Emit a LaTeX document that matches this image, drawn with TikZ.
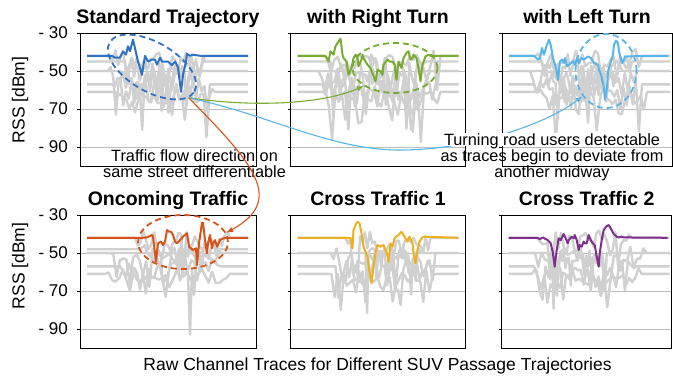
\documentclass[tikz,border=0pt]{standalone}
\usepackage{fontspec}
\setmainfont{Liberation Sans}
\usetikzlibrary{shapes.geometric,arrows.meta}

\definecolor{stdblue}{RGB}{47,114,196}
\definecolor{rightgreen}{RGB}{119,172,48}
\definecolor{leftblue}{RGB}{86,182,236}
\definecolor{oncomingorange}{RGB}{217,83,25}
\definecolor{crossgold}{RGB}{237,177,32}
\definecolor{crosspurple}{RGB}{126,47,142}
\definecolor{tracegray}{RGB}{208,208,208}
\definecolor{gridgray}{RGB}{188,188,188}
\setlength{\fboxsep}{0.5pt}

\newcommand{\graytrace}[4]{%
  \draw[clutter] (7,#1) -- (#2,#1)
    \foreach \k in {1,...,34} { -- ({#2+\k*(#3-#2)/35},{#1+4*rand-#4*rnd*rnd*rnd}) }
    -- (#3,#1) -- (168,#1);
}
\newcommand{\rssaxes}[3]{%
  \draw[gridline] (0,-50) -- (#1,-50) (0,-70) -- (#1,-70) (0,-90) -- (#1,-90);
  \draw[frame] (0,-30) rectangle (#1,-100);
  \foreach \v in {30,50,70,90} \draw[frame] (-3,-\v) -- (0,-\v);
  \node[paneltitle, yshift=10pt] (#3) at ({#1/2},-30) {#2};
}

\begin{document}
\begin{tikzpicture}[x=1pt, y=-1pt,
  trace/.style={line width=2pt, line join=round},
  clutter/.style={tracegray, line width=2.4pt, line join=round},
  gridline/.style={gridgray, line width=0.9pt},
  frame/.style={black, line width=0.9pt},
  ring/.style={ellipse, draw=#1, dash pattern=on 6pt off 4pt, line width=1.8pt, inner sep=0pt},
  flow/.style={#1, line width=1.1pt, -{Latex[length=7pt,width=5.5pt]}},
  paneltitle/.style={font=\bfseries\fontsize{19.5}{20}\selectfont, anchor=base},
  ticklabel/.style={font=\fontsize{17}{17}\selectfont, anchor=east, inner sep=0pt},
  axislabel/.style={font=\fontsize{17.5}{18}\selectfont, rotate=90},
  note/.style={font=\fontsize{16.3}{16}\selectfont, align=center, inner sep=0pt}]
\pgfmathsetseed{4}
\useasboundingbox (0,0) rectangle (673,381);

\begin{scope}[shift={(80,-24)}, y=1.9pt]
  \rssaxes{176}{Standard Trajectory}{stdtitle}
  \foreach \v in {30,50,70,90} \node[ticklabel] (stdtick\v) at (-12,-\v) {- \v};
  \graytrace{-42}{30}{125}{45}
  \graytrace{-50}{28}{120}{50}
  \graytrace{-57}{32}{130}{38}
  \graytrace{-61}{35}{135}{28}
  \graytrace{-50}{40}{110}{42}
  \graytrace{-45}{45}{125}{40}
  \draw[trace, stdblue] plot coordinates {(7,-42) (32,-42) (35,-43) (40,-43) (43,-39.6) (46,-41.4) (48,-37) (50,-39.6) (53,-33.5) (55,-38) (58,-45) (62,-52) (65,-42) (68,-45) (72,-44) (75,-44) (77,-46.7) (80,-43) (82,-45) (85,-45) (88,-45) (92,-47) (95,-45) (98,-48) (101,-61) (103,-52) (106,-45) (107,-41) (110,-42) (113,-41.4) (120,-42) (168,-42)};
\end{scope}

\begin{scope}[shift={(290.5,-24)}, y=1.9pt]
  \rssaxes{175}{with Right Turn}{righttitle}
  \graytrace{-42}{30}{150}{45}
  \graytrace{-50}{28}{140}{50}
  \graytrace{-57}{32}{145}{38}
  \graytrace{-61}{35}{150}{30}
  \graytrace{-50}{45}{125}{45}
  \graytrace{-45}{40}{135}{45}
  \draw[trace, rightgreen] plot coordinates {(7,-42) (35,-42) (38,-45) (40,-39.6) (43,-41.4) (45,-37) (47,-35.3) (50,-33) (52,-41.4) (53,-43.2) (56,-45) (58,-52) (61,-48.4) (63,-43.2) (65,-41.4) (67,-43.2) (68,-47.5) (71,-44) (72,-41.4) (73,-43.2) (77,-46.7) (80,-48.4) (85,-55.4) (87,-49.3) (90,-50.2) (92,-52) (93,-46.7) (97,-44) (99,-45) (102,-45) (104,-46.7) (106,-54.6) (108,-45) (111,-48.4) (113,-43.2) (116,-40.5) (118,-39.6) (120,-44) (122,-43.2) (123,-41.4) (126,-43.2) (128,-48.4) (130,-55.4) (132,-46.7) (135,-42.3) (138,-41.4) (140,-42) (168,-42)};
\end{scope}

\begin{scope}[shift={(502,-24)}, y=1.9pt]
  \rssaxes{170}{with Left Turn}{lefttitle}
  \graytrace{-42}{30}{140}{42}
  \graytrace{-50}{28}{135}{50}
  \graytrace{-57}{32}{140}{38}
  \graytrace{-61}{35}{145}{30}
  \graytrace{-50}{45}{120}{42}
  \graytrace{-45}{40}{130}{45}
  \draw[trace, leftblue] plot coordinates {(7,-42) (32,-42) (36,-44) (38,-43.2) (40,-37.9) (42,-41.4) (45,-36.1) (47,-33.5) (49,-37) (51,-43.2) (54,-48.4) (56,-54.6) (58,-44.9) (60,-44) (62,-45.8) (63,-43.2) (65,-47.5) (67,-46.7) (71,-44.9) (73,-46.7) (75,-43.2) (77,-45.8) (79,-43.2) (82,-44) (86,-42.3) (89,-43.2) (92,-45.8) (96,-46.7) (97,-49.3) (99,-51.9) (102,-59) (103,-65.1) (105,-59) (106,-50.2) (108,-46.7) (111,-41.4) (112,-36.1) (114,-34) (116,-35.3) (117,-39.6) (120,-45.8) (122,-44) (123,-42.3) (166,-42)};
\end{scope}

\begin{scope}[shift={(80,158)}, y=1.9pt]
  \rssaxes{176}{Oncoming Traffic}{oncomingtitle}
  \foreach \v in {30,50,70,90} \node[ticklabel] (oncomingtick\v) at (-12,-\v) {- \v};
  \graytrace{-42}{55}{150}{22}
  \graytrace{-50}{30}{145}{26}
  \graytrace{-57}{40}{140}{22}
  \graytrace{-61}{25}{150}{16}
  \graytrace{-48}{60}{140}{28}
  \draw[clutter] (7,-50) -- (95,-50) -- (100,-55) -- (104,-48) -- (108,-62) -- (110,-93) -- (112,-58) -- (114,-72) -- (117,-50) -- (122,-52) -- (126,-50) -- (168,-50);
  \draw[trace, oncomingorange] plot coordinates {(7,-42) (58,-42) (62,-42) (67,-41.8) (70,-41.1) (72,-40.5) (73,-41.4) (76,-54.6) (78,-44.9) (81,-44) (83,-45.8) (85,-44) (87,-37.9) (89,-38.8) (91,-38.8) (93,-40.5) (95,-44) (97,-44.9) (100,-43.2) (103,-41.4) (107,-39.6) (109,-46.7) (113,-48.4) (116,-47.5) (117,-56.4) (119,-44.9) (122,-34.1) (123,-34.1) (125,-43.2) (127,-50.2) (128,-44.9) (130,-40.5) (132,-47.5) (133,-44.9) (135,-43.2) (137,-46.7) (140,-43.2) (143,-42.3) (147,-42) (168,-42)};
\end{scope}

\begin{scope}[shift={(290.5,158)}, y=1.9pt]
  \rssaxes{175}{Cross Traffic 1}{crossonetitle}
  \graytrace{-42}{55}{140}{38}
  \graytrace{-50}{40}{145}{48}
  \graytrace{-57}{45}{140}{40}
  \graytrace{-61}{38}{145}{30}
  \graytrace{-50}{75}{130}{48}
  \draw[trace, crossgold] plot coordinates {(7,-42) (58,-42) (60,-42) (62,-47.5) (63,-37.9) (65,-35.3) (67,-33.5) (69,-34.4) (71,-39.6) (73,-46.7) (75,-49.3) (77,-51.9) (79,-59.8) (81,-65.9) (83,-57.2) (85,-50.2) (87,-45.8) (90,-46.7) (93,-45.8) (95,-48.4) (97,-51.1) (98,-54.6) (100,-44.9) (102,-46.7) (104,-42.3) (106,-41.4) (108,-40.5) (111,-38.8) (113,-40.5) (115,-42.3) (117,-44) (119,-41.4) (122,-44.9) (123,-50.2) (125,-55.4) (127,-48.4) (129,-44) (132,-41.8) (133,-41.4) (168,-42)};
\end{scope}

\begin{scope}[shift={(501.7,158)}, y=1.9pt]
  \rssaxes{170}{Cross Traffic 2}{crosstwotitle}
  \graytrace{-42}{35}{130}{30}
  \graytrace{-50}{30}{145}{35}
  \graytrace{-57}{32}{135}{30}
  \graytrace{-61}{30}{140}{26}
  \graytrace{-50}{45}{105}{35}
  \draw[trace, crosspurple] plot coordinates {(7,-42) (36,-42) (38,-42.7) (41,-41.8) (46,-43.2) (49,-44.9) (51,-49.3) (53,-57.2) (55,-48.4) (57,-42.3) (59,-43.2) (62,-40) (64,-42.3) (66,-44.9) (67,-43.2) (70,-41.4) (72,-42.3) (73,-40.5) (75,-43.2) (77,-48.4) (78,-45.8) (80,-46.7) (82,-44) (83,-44.9) (85,-44.9) (87,-40.5) (89,-43.2) (91,-44.9) (93,-45.8) (95,-51.9) (97,-57.2) (98,-50.2) (100,-43.2) (102,-37.9) (105,-35.8) (107,-35.3) (109,-37) (112,-40) (115,-41.4) (117,-41.8) (120,-41.4) (122,-41.8) (166,-42)};
\end{scope}

\node[axislabel] (toprss) at (20,100) {RSS [dBm]};
\node[axislabel] (bottomrss) at (20,266) {RSS [dBm]};
\node[font=\fontsize{17.5}{18}\selectfont] (rawcaption) at (377.5,365.5) {Raw Channel Traces for Different SUV Passage Trajectories};

\node[ring=stdblue, minimum width=98pt, minimum height=49pt, rotate=-30] (stdring) at (152,67) {};
\node[ring=rightgreen, minimum width=85pt, minimum height=50pt] (rightring) at (395,68) {};
\node[ring=leftblue, minimum width=61pt, minimum height=74pt] (leftring) at (606,71) {};
\node[ring=oncomingorange, minimum width=90pt, minimum height=54pt] (oncomingring) at (183,242) {};

\node[note] (flownote) at (194.5,163.5) {Traffic flow direction on\\same street differentiable};

\draw[flow=rightgreen] (stdring.-10) .. controls (250,107) and (320,105) .. (rightring.-150);
\draw[flow=leftblue] (stdring.-10) .. controls (270,115) and (330,150) .. (400,150) .. controls (470,150) and (545,125) .. (leftring.-133);
\draw[flow=oncomingorange] (stdring.-10) .. controls (255,165) and (285,200) .. (oncomingring.12);

\node[note] (turnnote) at (552,157) {\colorbox{white}{\raisebox{0pt}[\height][0pt]{Turning road users detectable}}\\as traces begin to deviate from\\another midway};
\end{tikzpicture}
\end{document}
